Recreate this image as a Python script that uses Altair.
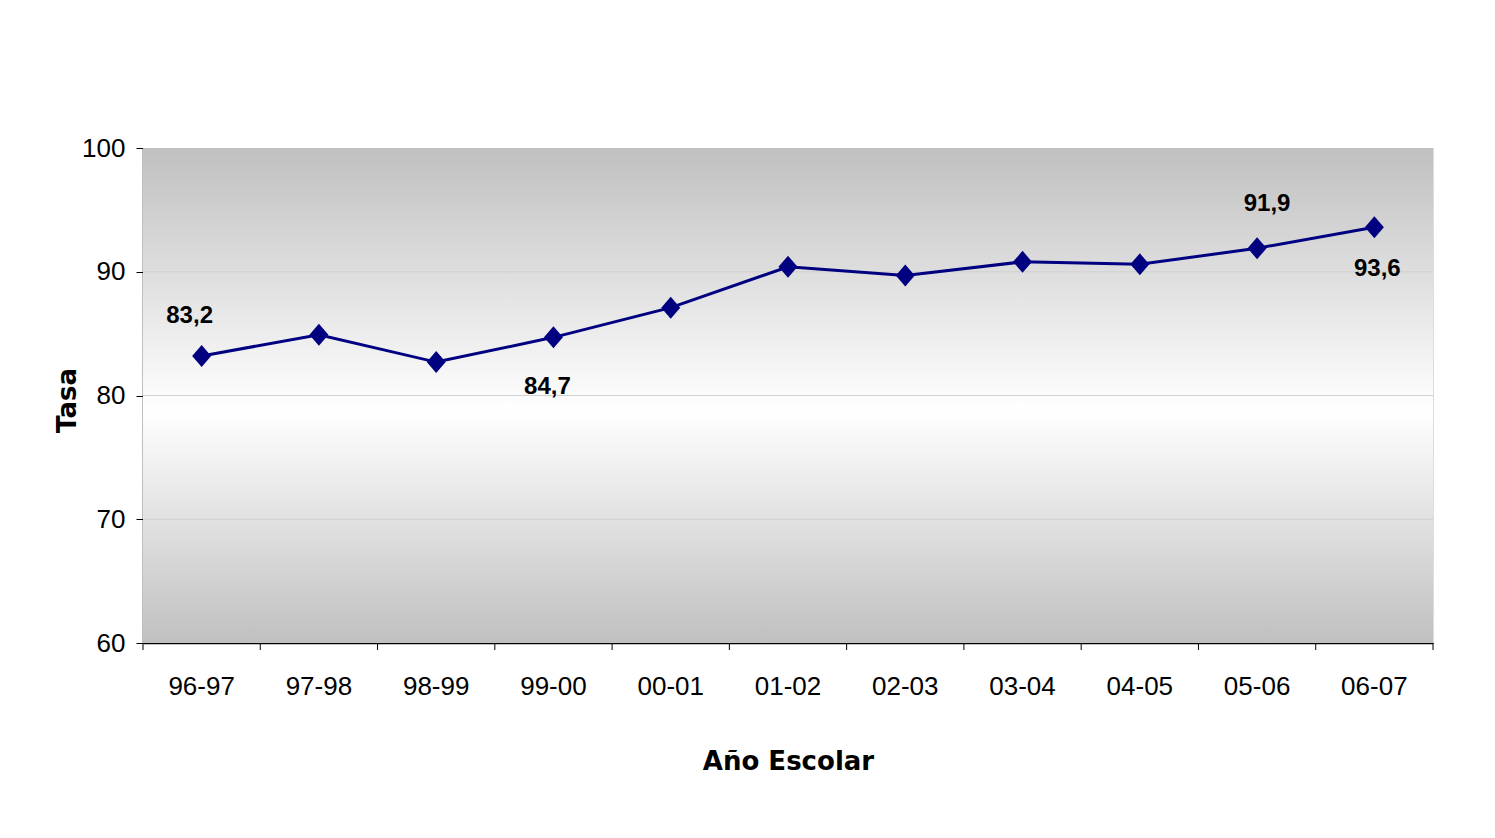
import altair as alt
import pandas as pd

years = ["96-97", "97-98", "98-99", "99-00", "00-01", "01-02",
         "02-03", "03-04", "04-05", "05-06", "06-07"]
tasa = [83.2, 84.9, 82.7, 84.7, 87.1, 90.4, 89.7, 90.8, 90.6, 91.9, 93.6]
labelled_years = ["96-97", "99-00", "05-06", "06-07"]
grid_values = [70, 80, 90]

W, H = 1290, 495
df = pd.DataFrame({"year": years, "tasa": tasa})
df["label"] = [f"{v:.1f}".replace(".", ",") for v in tasa]
grid_df = pd.DataFrame({"g": grid_values})

sans = "Liberation Sans, Arial, sans-serif"

xscale = alt.Scale(domain=years, paddingInner=0, paddingOuter=0)
yscale = alt.Scale(domain=[60, 100])

x_axis = alt.Axis(title="Año Escolar", labelAngle=0, ticks=False,
                  labelFont=sans, labelFontSize=26, labelColor="#000",
                  labelPadding=30, domain=True, domainColor="#000",
                  domainWidth=1.5, titleFont="DejaVu Sans",
                  titleFontSize=26, titleFontWeight="bold",
                  titleColor="#000", titleX=645, titleY=126,
                  titleBaseline="alphabetic", grid=False)
y_axis = alt.Axis(title="Tasa", values=[60, 70, 80, 90, 100],
                  tickSize=7, tickColor="#000", tickWidth=1,
                  labelFont=sans, labelFontSize=26, labelColor="#000",
                  labelPadding=11, domainColor="#000", domainWidth=1.5,
                  titleFont="DejaVu Sans", titleFontSize=26,
                  titleFontWeight="bold", titleColor="#000",
                  titleX=-68, titleY=252, titleBaseline="alphabetic",
                  grid=False)

X = alt.X("year:N", scale=xscale, sort=years, axis=x_axis)
Y = alt.Y("tasa:Q", scale=yscale, axis=y_axis)

bg = alt.Chart(df).mark_rect(
    fill={"gradient": "linear", "x1": 0, "y1": 0, "x2": 0, "y2": 1,
          "stops": [{"offset": 0, "color": "#c0c0c0"},
                    {"offset": 0.53, "color": "#ffffff"},
                    {"offset": 1, "color": "#c0c0c0"}]}
).encode(x=alt.value(0), x2=alt.value(W), y=alt.value(0), y2=alt.value(H))

grid = alt.Chart(grid_df).mark_rule(color="#d0d0d0", strokeWidth=1).encode(
    y=alt.Y("g:Q", scale=yscale, axis=y_axis))

# x ticks at category boundaries
xticks = alt.Chart(df).mark_rule(color="#000", strokeWidth=1).encode(
    x=alt.X("year:N", scale=xscale, sort=years, bandPosition=0, axis=x_axis),
    y=alt.value(H), y2=alt.value(H + 7))
xtick_end = alt.Chart(df.head(1)).mark_rule(color="#000", strokeWidth=1).encode(
    x=alt.value(W), y=alt.value(H), y2=alt.value(H + 7))

line = alt.Chart(df).mark_line(color="#000080", strokeWidth=3).encode(x=X, y=Y)

pts = alt.Chart(df).mark_point(
    shape="M0,-1.1L0.95,0L0,1.1L-0.95,0Z", size=400, filled=True,
    color="#000080", opacity=1).encode(x=X, y=Y)

# label placement offsets (style), one per labelled point
offsets = {"96-97": (-12, -40), "99-00": (-6, 50), "05-06": (10, -44), "06-07": (3, 42)}
texts = []
for yr in labelled_years:
    dx, dy = offsets[yr]
    texts.append(
        alt.Chart(df).transform_filter(alt.datum.year == yr)
        .mark_text(font=sans, fontSize=24, fontWeight="bold", color="#000",
                   baseline="middle", align="center", dx=dx, dy=dy)
        .encode(x=X, y=Y, text="label:N"))

chart = alt.layer(bg, grid, xticks, xtick_end, line, pts, *texts).properties(
    width=W, height=H,
    autosize=alt.AutoSizeParams(type="none"),
    padding={"left": 135, "top": 140, "right": 40, "bottom": 150},
).configure_view(stroke="#404040", strokeWidth=1.5).configure(background="white")

chart.save("out.html", embed_options={"renderer": "svg", "actions": False})
